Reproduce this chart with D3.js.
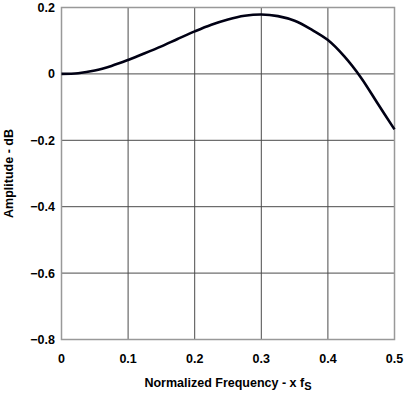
<!DOCTYPE html>
<html>
<head>
<meta charset="utf-8">
<script src="https://cdn.jsdelivr.net/npm/d3@7"></script>
<style>
  body { margin: 0; background: #fff; }
  text { font-family: "Liberation Sans", Arial, sans-serif; font-weight: bold; }
</style>
</head>
<body>
<script>
// frequency (x fs) and amplitude (dB)
var freq = [0, 0.025, 0.05, 0.075, 0.1, 0.125, 0.15, 0.175, 0.2, 0.225, 0.25,
            0.275, 0.3, 0.325, 0.35, 0.375, 0.4, 0.425, 0.45, 0.475, 0.5];
var amp = [0, 0.002, 0.010, 0.024, 0.042, 0.062, 0.083, 0.106, 0.128, 0.148, 0.164,
           0.175, 0.179, 0.174, 0.160, 0.134, 0.102, 0.052, -0.012, -0.090, -0.167];

var xTicks = [0, 0.1, 0.2, 0.3, 0.4, 0.5];
var yTicks = [0.2, 0, -0.2, -0.4, -0.6, -0.8];

var w = 407, h = 400;
// plot box (note: "top" is taken by window.top)
var pLeft = 61.5, pRight = 394.5, pTop = 7.5, pBottom = 339.5;

var svg = d3.select("body").append("svg")
  .attr("width", w)
  .attr("height", h);

var x = d3.scaleLinear().domain([0, 0.5]).range([pLeft, pRight]);
var y = d3.scaleLinear().domain([-0.8, 0.2]).range([pBottom, pTop]);

function fmt(v) {
  if (v == 0) return "0";
  return (v < 0 ? "\u2212" : "") + Math.abs(v).toFixed(1);
}

// grid
svg.selectAll(".vg").data(xTicks.slice(1, -1)).enter().append("line")
  .attr("x1", d => x(d)).attr("x2", d => x(d))
  .attr("y1", pTop).attr("y2", pBottom)
  .attr("stroke", "#4a4a4a").attr("stroke-width", 1);

svg.selectAll(".hg").data(yTicks.slice(1, -1)).enter().append("line")
  .attr("x1", pLeft).attr("x2", pRight)
  .attr("y1", d => y(d)).attr("y2", d => y(d))
  .attr("stroke", "#4a4a4a").attr("stroke-width", 1);

svg.append("rect")
  .attr("x", pLeft).attr("y", pTop)
  .attr("width", pRight - pLeft).attr("height", pBottom - pTop)
  .attr("fill", "none").attr("stroke", "#999").attr("stroke-width", 1.5);

// tick labels
svg.selectAll(".yl").data(yTicks).enter().append("text")
  .attr("x", 55).attr("y", d => y(d) + 4.5)
  .attr("text-anchor", "end")
  .attr("font-size", 12.5)
  .text(fmt);

svg.selectAll(".xl").data(xTicks).enter().append("text")
  .attr("x", d => x(d)).attr("y", 363)
  .attr("text-anchor", "middle")
  .attr("font-size", 12.5)
  .text(fmt);

// axis titles
svg.append("text")
  .attr("transform", "translate(13," + ((pTop + pBottom) / 2) + ") rotate(-90)")
  .attr("text-anchor", "middle")
  .attr("font-size", 12.5)
  .text("Amplitude - dB");

var xt = svg.append("text")
  .attr("x", (pLeft + pRight) / 2).attr("y", 387)
  .attr("text-anchor", "middle")
  .attr("font-size", 12.5);
xt.append("tspan").text("Normalized Frequency - x f");
xt.append("tspan").attr("dy", 3).attr("font-size", 11).text("S");

// curve
var pts = freq.map((f, i) => [f, amp[i]]);
var line = d3.line()
  .x(d => x(d[0]))
  .y(d => y(d[1]))
  .curve(d3.curveCatmullRom);

svg.append("path")
  .attr("d", line(pts))
  .attr("fill", "none")
  .attr("stroke", "#000014")
  .attr("stroke-width", 2.6);
</script>
</body>
</html>
